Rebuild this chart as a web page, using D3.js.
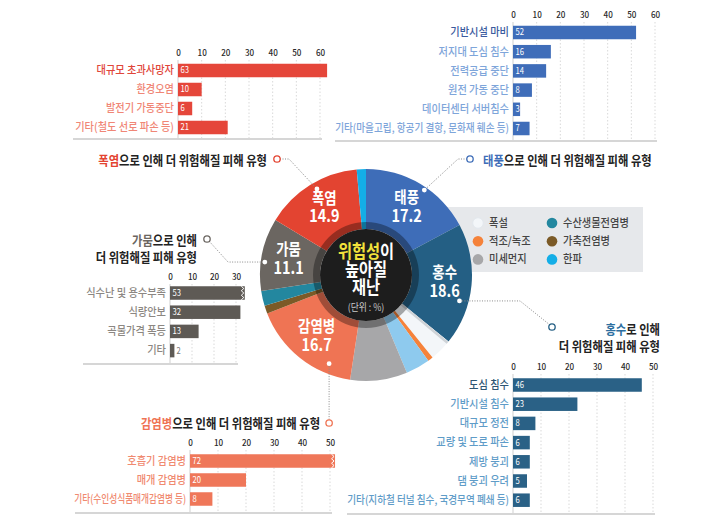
<!DOCTYPE html>
<html><head><meta charset="utf-8">
<script src="https://cdn.jsdelivr.net/npm/d3@7"></script>
<style>
html,body{margin:0;padding:0;background:#fff;}
svg{display:block;font-family:"Noto Sans CJK KR","Noto Sans",sans-serif;}
</style></head><body>
<svg id="c" width="703" height="532"></svg>
<script>
// ---------- DATA ----------
const disasterNames  = ["태풍","홍수","폭설","적조/녹조","기타","미세먼지","감염병","가축전염병","수산생물전염병","가뭄","폭염","한파"];
const disasterShares = [17.2, 18.6, 3.4, 0.8, 3.7, 8.7, 16.7, 1.2, 2.3, 11.1, 14.9, 1.4];
const labelledDisasters = ["태풍","홍수","감염병","가뭄","폭염"];
const legendNames = ["폭설","적조/녹조","미세먼지","수산생물전염병","가축전염병","한파"];

const heatCats  = ["대규모 초과사망자","환경오염","발전기 가동중단","기타(철도 선로 파손 등)"];
const heatVals  = [63, 10, 6, 21];
const heatTicks = [0,10,20,30,40,50,60];

const typhoonCats  = ["기반시설 마비","저지대 도심 침수","전력공급 중단","원전 가동 중단","데이터센터 서버침수","기타(마을고립, 항공기 결항, 문화재 훼손 등)"];
const typhoonVals  = [52, 16, 14, 8, 3, 7];
const typhoonTicks = [0,10,20,30,40,50,60];

const droughtCats  = ["식수난 및 용수부족","식량안보","곡물가격 폭등","기타"];
const droughtVals  = [53, 32, 13, 2];
const droughtTicks = [0,10,20,30];

const infectCats  = ["호흡기 감염병","매개 감염병","기타(수인성식품매개감염병 등)"];
const infectVals  = [72, 20, 8];
const infectTicks = [0,10,20,30,40,50];

const floodCats  = ["도심 침수","기반시설 침수","대규모 정전","교량 및 도로 파손","제방 붕괴","댐 붕괴 우려","기타(지하철 터널 침수, 국경무역 폐쇄 등)"];
const floodVals  = [46, 23, 8, 6, 6, 5, 6];
const floodTicks = [0,10,20,30,40,50];

// ---------- STYLE ----------
const FONT = '"Noto Sans CJK KR","Noto Sans",sans-serif';
const sliceColor = {
  "태풍":"#3e6db8","홍수":"#245f84","폭설":"#f3f6f9","적조/녹조":"#f5823a","기타":"#8ecaee",
  "미세먼지":"#a7a7a9","감염병":"#ef7454","가축전염병":"#7b5a27","수산생물전염병":"#23879f",
  "가뭄":"#6b6661","폭염":"#e34431","한파":"#14aee7"
};

const svg = d3.select("#c");

// horizontally condense text with a scale transform around its anchor point
function condense(sel, f, maxW) {
  sel.each(function(){
    const L = this.getComputedTextLength();
    if (!(L > 0)) return;
    let s = f;
    if (maxW && L*s > maxW) s = maxW / L;
    const el = d3.select(this);
    const x = +el.attr("x") || 0, y = +el.attr("y") || 0;
    el.attr("x", 0).attr("y", 0)
      .attr("transform", `translate(${x},${y}) scale(${s.toFixed(4)},1)`);
  });
}

// ---------- BAR CHARTS ----------
function barChart(o) {
  const g = svg.append("g");
  const x = d3.scaleLinear().domain([0, o.dmax]).range([o.x0, o.x1]);
  const y = d3.scalePoint().domain(o.cats).range([o.y0, o.y0 + o.step*(o.cats.length-1)]);
  const bh = 13.5;
  const lastTick = o.ticks[o.ticks.length-1];

  g.selectAll("line.grid").data(o.ticks).join("line")
    .attr("x1", d=>x(d)).attr("x2", d=>x(d))
    .attr("y1", o.tickY+7).attr("y2", o.axisY)
    .attr("stroke", d=> d===0 ? "#cfcfcf" : "#d9d9d9").attr("stroke-width", 1)
    .attr("stroke-dasharray", d=> d===0 ? null : "1.5,2");

  g.append("line").attr("x1", o.axisLeft).attr("x2", x(lastTick)+2)
    .attr("y1", o.axisY).attr("y2", o.axisY)
    .attr("stroke","#d6d6d6").attr("stroke-width",2);

  const ax = g.append("g").attr("transform",`translate(0,${o.tickY})`)
    .call(d3.axisTop(x).tickValues(o.ticks).tickSize(0).tickPadding(0).tickFormat(d3.format("d")));
  ax.select(".domain").remove();
  ax.selectAll("text").attr("dy","0.35em").attr("fill","#2a2a2a")
    .style("font-size","9px").style("font-weight","500").style("font-family",FONT);
  condense(ax.selectAll("text"), 0.9);

  const cap = o.cap || Infinity;
  const rows = o.vals.map((v,i)=>({v, c:o.cats[i], i}));
  const bw = d => x(Math.min(d.v,cap)) - x(0);
  g.selectAll("rect.bar").data(rows).join("rect")
    .attr("x", x(0)).attr("y", d=>y(d.c) - bh/2)
    .attr("width", bw).attr("height", bh)
    .attr("fill", o.color);

  // break marks for truncated bars
  rows.filter(d=>d.v>cap).forEach(d=>{
    const xe = x(cap), t = y(d.c)-bh/2;
    const pts = [];
    for (let k=0;k<=6;k++) pts.push([xe - (k%2? 1:3.5), t + bh*k/6]);
    g.append("polyline").attr("points", pts.map(p=>p.join(",")).join(" "))
      .attr("fill","none").attr("stroke","#fff").attr("stroke-width",1);
  });

  const lab = g.selectAll("text.cat").data(rows).join("text")
    .attr("x", x(0)-4).attr("y", d=>y(d.c)).attr("dy","0.35em")
    .attr("text-anchor","end")
    .attr("fill", d=> d.i===0 && o.firstColor ? o.firstColor : o.labelColor)
    .style("font-size","11px").style("font-weight","500").text(d=>d.c);
  condense(lab, 0.93, o.maxLabelW);

  const vl = g.selectAll("text.val").data(rows).join("text")
    .attr("x", d=> bw(d) < 5 ? x(Math.min(d.v,cap))+2 : x(0)+2.5)
    .attr("y", d=>y(d.c)).attr("dy","0.35em")
    .attr("fill", d=> bw(d) < 5 ? "#777" : "#fff")
    .style("font-size","8.5px").text(d=>d.v);
  condense(vl, 0.9);
}

barChart({cats:heatCats, vals:heatVals, ticks:heatTicks, dmax:60, x0:178, x1:320,
  y0:70.5, step:19, tickY:53, axisY:139, axisLeft:73, color:"#e5463a",
  labelColor:"#f08676", firstColor:"#e0463a"});
barChart({cats:typhoonCats, vals:typhoonVals, ticks:typhoonTicks, dmax:60, x0:513, x1:655,
  y0:32.5, step:19.2, tickY:15, axisY:141, axisLeft:335, color:"#3f6db9",
  labelColor:"#7ea5da", firstColor:"#3a5a9e", maxLabelW:174});
barChart({cats:droughtCats, vals:droughtVals, ticks:droughtTicks, dmax:30, x0:170, x1:236,
  y0:293, step:19.2, tickY:277, axisY:364, axisLeft:83, color:"#5e5a55",
  labelColor:"#8c8782", cap:34});
barChart({cats:infectCats, vals:infectVals, ticks:infectTicks, dmax:50, x0:190, x1:330,
  y0:461, step:19, tickY:443, axisY:513, axisLeft:75, color:"#ef7759",
  labelColor:"#f08a70", cap:51.8, maxLabelW:112});
barChart({cats:floodCats, vals:floodVals, ticks:floodTicks, dmax:50, x0:513, x1:653,
  y0:385, step:19.2, tickY:367, axisY:514, axisLeft:347, color:"#2a6186",
  labelColor:"#5f9cc8", firstColor:"#2d5573", maxLabelW:162});

// ---------- LEGEND BOX ----------
svg.append("rect").attr("x",420).attr("y",207).attr("width",223).attr("height",65).attr("fill","#e6e8eb");
const lg = svg.append("g");
legendNames.forEach((n,i)=>{
  const col = Math.floor(i/3), row = i%3;
  const lx = col===0 ? 478 : 552, ly = 223 + row*18.2;
  lg.append("circle").attr("cx",lx).attr("cy",ly).attr("r",5.3).attr("fill",sliceColor[n])
    .attr("stroke", n==="폭설" ? "#e3e8ee" : "none");
  const t = lg.append("text").attr("x",lx+11).attr("y",ly).attr("dy","0.35em")
    .attr("fill","#444").style("font-size","11px").style("font-weight","500").text(n);
  condense(t, 0.93);
});

// ---------- DONUT ----------
const cx = 366, cy = 275, R = 106, r0 = 46;
const arcs = d3.pie().sort(null).value(d=>d)(disasterShares);
const arcGen = d3.arc().innerRadius(r0).outerRadius(R);
const gD = svg.append("g").attr("transform",`translate(${cx},${cy})`);
gD.selectAll("path.slice").data(arcs).join("path")
  .attr("d", arcGen).attr("fill",(d,i)=>sliceColor[disasterNames[i]]);

// thin grey edge between 홍수 and 폭설
{
  const a = arcs[disasterNames.indexOf("폭설")].startAngle + 0.015;
  gD.append("line").attr("x1", r0*Math.sin(a)).attr("y1", -r0*Math.cos(a))
    .attr("x2", R*Math.sin(a)).attr("y2", -R*Math.cos(a))
    .attr("stroke","#cfd3d7").attr("stroke-width",2.5);
}
// shadow ring and black centre
gD.append("path").attr("d", d3.arc().innerRadius(r0).outerRadius(r0+7).startAngle(0).endAngle(2*Math.PI)())
  .attr("fill","rgba(0,0,0,0.33)");
gD.append("circle").attr("r", r0).attr("fill","#1d1d1d");

// centre text
const ct1 = gD.append("text").attr("y",-23).attr("dy","0.35em").attr("text-anchor","middle")
  .style("font-size","18px").style("font-weight","700");
ct1.append("tspan").attr("fill","#f3e23b").text("위험성");
ct1.append("tspan").attr("fill","#fff").text("이");
condense(ct1, 0.85);
const ct2 = gD.append("text").attr("y",-5).attr("dy","0.35em").attr("text-anchor","middle")
  .attr("fill","#fff").style("font-size","18px").style("font-weight","700").text("높아질");
condense(ct2, 0.85);
const ct3 = gD.append("text").attr("y",13).attr("dy","0.35em").attr("text-anchor","middle")
  .attr("fill","#fff").style("font-size","18px").style("font-weight","700").text("재난");
condense(ct3, 0.85);
const ct4 = gD.append("text").attr("y",32).attr("dy","0.35em").attr("text-anchor","middle")
  .attr("fill","#c9c9c9").style("font-size","10px").text("(단위 : %)");
condense(ct4, 0.88);

// slice labels
const labArc = d3.arc().innerRadius(79).outerRadius(79);
arcs.forEach((d,i)=>{
  const n = disasterNames[i];
  if (!labelledDisasters.includes(n)) return;
  const [lx, ly] = labArc.centroid(d);
  const a = gD.append("text").attr("x",lx).attr("y",ly-10).attr("dy","0.35em").attr("text-anchor","middle")
    .attr("fill","#fff").style("font-size","16px").style("font-weight","700").text(n);
  condense(a, 0.84);
  const b = gD.append("text").attr("x",lx).attr("y",ly+8.5).attr("dy","0.35em").attr("text-anchor","middle")
    .attr("fill","#fff").style("font-size","17px").style("font-weight","700").text(d.data.toFixed(1));
  condense(b, 0.85);
});

// ---------- ANNOTATIONS ----------
function polar(deg, r){ const a = deg*Math.PI/180; return [cx + r*Math.sin(a), cy - r*Math.cos(a)]; }
const lineStyle = s => s.attr("fill","none").attr("stroke","#8a8a8a").attr("stroke-width",1).attr("stroke-dasharray","1,1.5");

function titleLine(x, y, anchor, parts, size) {
  const t = svg.append("text").attr("x",x).attr("y",y).attr("dy","0.35em").attr("text-anchor",anchor)
    .style("font-size",(size||13)+"px").style("font-weight","700");
  parts.forEach(p=> t.append("tspan").attr("fill",p[1]).text(p[0]));
  condense(t, 0.87);
}
function marker(x, y, color){
  svg.append("circle").attr("cx",x).attr("cy",y).attr("r",3.2).attr("fill","#fff")
    .attr("stroke",color).attr("stroke-width",1.3);
}
function dot(p){ svg.append("circle").attr("cx",p[0]).attr("cy",p[1]).attr("r",2.4).attr("fill","#fff"); }

const DARK = "#222";
// 폭염
{
  const d = polar(-29.7, 99), m = [277,159];
  svg.append("path").attr("d", d3.line()([[m[0]+3,m[1]],[m[0]+12,m[1]],d])).call(lineStyle);
  marker(m[0],m[1],"#e34431"); dot(d);
  titleLine(267,160,"end",[["폭염","#e34431"],["으로 인해 더 위험해질 피해 유형",DARK]]);
}
// 태풍
{
  const d = polar(34.5, 103), m = [470,159];
  svg.append("path").attr("d", d3.line()([[m[0]-3,m[1]],[m[0]-12,m[1]],d])).call(lineStyle);
  marker(m[0],m[1],"#3e6db8"); dot(d);
  titleLine(483,160,"start",[["태풍","#3e6db8"],["으로 인해 더 위험해질 피해 유형",DARK]]);
}
// 가뭄
{
  const d = polar(-82.7, 102), m = [207,239];
  svg.append("path").attr("d", d3.line()([[m[0]+2,m[1]+2],[m[0]+21,d[1]],d])).call(lineStyle);
  marker(m[0],m[1],"#6b6661"); dot(d);
  titleLine(197,240,"end",[["가뭄","#6b6661"],["으로 인해",DARK]]);
  titleLine(197,257,"end",[["더 위험해질 피해 유형",DARK]]);
}
// 감염병
{
  const d = polar(202.6, 96), m = [d[0], 423];
  svg.append("path").attr("d", d3.line()([d,[m[0],m[1]-3]])).call(lineStyle);
  marker(m[0],m[1],"#ef7454"); dot(d);
  titleLine(m[0]-9,423,"end",[["감염병","#ef7454"],["으로 인해 더 위험해질 피해 유형",DARK]]);
}
// 홍수
{
  const d = polar(105.5, 97), m = [552,327];
  svg.append("path").attr("d", d3.line()([d,[520,d[1]],[m[0]-2,m[1]-2]])).call(lineStyle);
  marker(m[0],m[1],"#245f84"); dot(d);
  titleLine(660,329,"end",[["홍수","#2e6fa0"],["로 인해",DARK]]);
  titleLine(660,346,"end",[["더 위험해질 피해 유형",DARK]]);
}
</script>
</body></html>
